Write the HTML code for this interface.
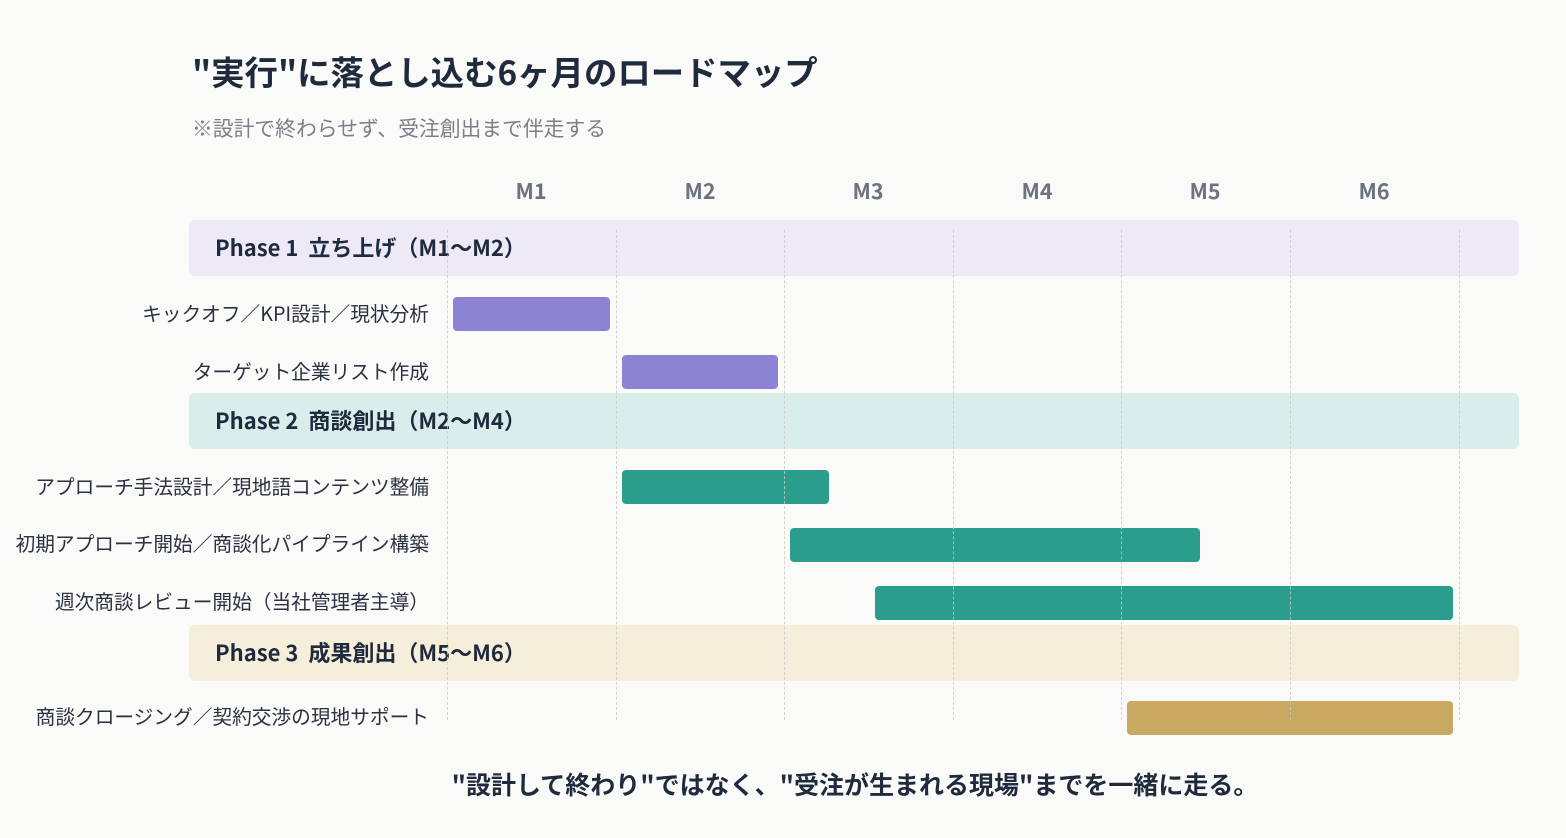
<!DOCTYPE html>
<html><head><meta charset="utf-8"><style>
html,body{margin:0;padding:0;}
body{width:1566px;height:838px;background:#fafaf8;position:relative;overflow:hidden;font-family:"Noto Sans CJK JP","Liberation Sans",sans-serif;color:#1f2a3d;}
.a{position:absolute;line-height:1;}
.title{left:192px;top:54px;font-size:33.4px;font-weight:bold;color:#1f2a3d;white-space:nowrap;}
.sub{left:192px;top:117px;font-size:20.8px;color:#7a808a;white-space:nowrap;}
.m{top:180px;width:80px;margin-left:-40px;text-align:center;font-size:21.5px;font-weight:bold;color:#6b7280;}
.band{left:189px;width:1330px;height:56px;border-radius:6px;}
.band span{position:absolute;left:26px;top:16px;font-size:22px;font-weight:bold;color:#1f2a3d;white-space:nowrap;line-height:1;}
.lbl{right:1137px;font-size:19.7px;color:#2a3140;white-space:nowrap;text-align:right;}
.bar{height:34px;border-radius:4px;}
.g{top:230px;height:490px;width:0;border-left:1px dashed rgba(200,200,200,0.8);}
.foot{left:5px;width:1700px;top:772px;text-align:center;font-size:25px;font-weight:bold;color:#1f2a3d;white-space:nowrap;}
</style></head><body>
<div class="a title">"実行"に落とし込む6ヶ月のロードマップ</div>
<div class="a sub">※設計で終わらせず、受注創出まで伴走する</div>
<div class="a m" style="left:531px">M1</div>
<div class="a m" style="left:700px">M2</div>
<div class="a m" style="left:868px">M3</div>
<div class="a m" style="left:1037px">M4</div>
<div class="a m" style="left:1205px">M5</div>
<div class="a m" style="left:1374px">M6</div>

<div class="a band" style="top:220px;background:#ede9f7"><span>Phase 1&nbsp; 立ち上げ（M1〜M2）</span></div>
<div class="a band" style="top:393px;background:#d9eeea"><span>Phase 2&nbsp; 商談創出（M2〜M4）</span></div>
<div class="a band" style="top:625px;background:#f5eedb"><span>Phase 3&nbsp; 成果創出（M5〜M6）</span></div>

<div class="a lbl" style="top:303px">キックオフ／KPI設計／現状分析</div>
<div class="a lbl" style="top:361px">ターゲット企業リスト作成</div>
<div class="a lbl" style="top:476px">アプローチ手法設計／現地語コンテンツ整備</div>
<div class="a lbl" style="top:533px">初期アプローチ開始／商談化パイプライン構築</div>
<div class="a lbl" style="top:591px">週次商談レビュー開始（当社管理者主導）</div>
<div class="a lbl" style="top:706px">商談クロージング／契約交渉の現地サポート</div>

<div class="a bar" style="left:453px;top:297px;width:157px;background:#8c83d3"></div>
<div class="a bar" style="left:622px;top:355px;width:156px;background:#8c83d3"></div>
<div class="a bar" style="left:622px;top:470px;width:207px;background:#2a9d8d"></div>
<div class="a bar" style="left:790px;top:528px;width:410px;background:#2a9d8d"></div>
<div class="a bar" style="left:875px;top:586px;width:578px;background:#2a9d8d"></div>
<div class="a bar" style="left:1127px;top:701px;width:326px;background:#c9a862"></div>

<div class="a g" style="left:447px"></div>
<div class="a g" style="left:616px"></div>
<div class="a g" style="left:784px"></div>
<div class="a g" style="left:953px"></div>
<div class="a g" style="left:1121px"></div>
<div class="a g" style="left:1290px"></div>
<div class="a g" style="left:1459px"></div>

<div class="a foot">"設計して終わり"ではなく、"受注が生まれる現場"までを一緒に走る。</div>
</body></html>
